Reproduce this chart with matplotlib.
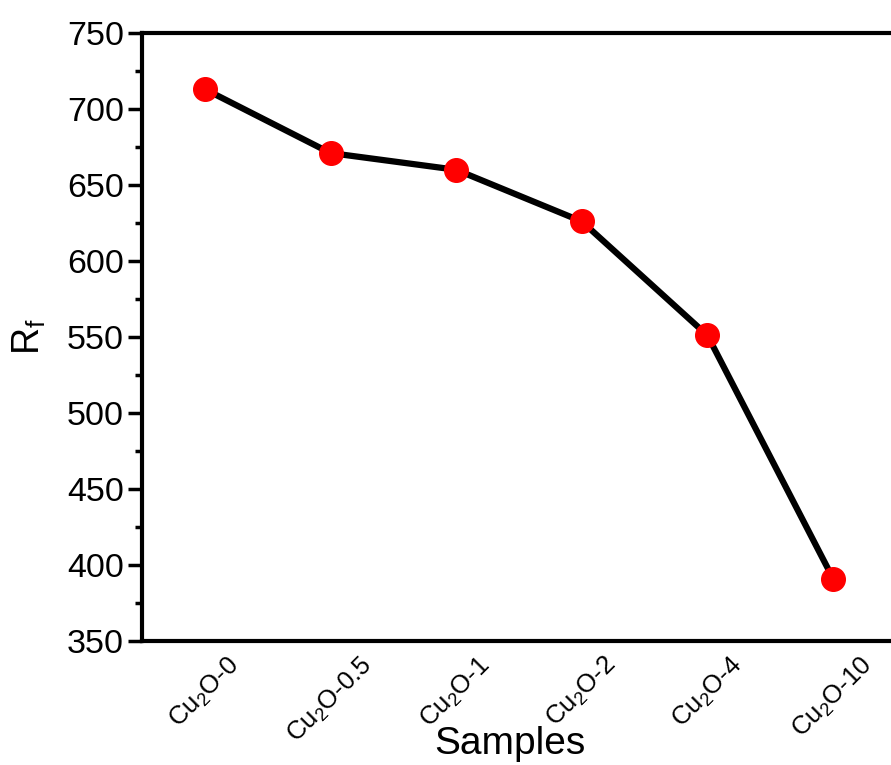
import matplotlib
matplotlib.use('Agg')
import matplotlib.pyplot as plt
from matplotlib.ticker import MultipleLocator

plt.rcParams['font.family'] = ['Liberation Sans', 'DejaVu Sans']
plt.rcParams['mathtext.default'] = 'regular'

# Data
samples = ['Cu$_2$O-0', 'Cu$_2$O-0.5', 'Cu$_2$O-1', 'Cu$_2$O-2', 'Cu$_2$O-4', 'Cu$_2$O-10']
rf = [713, 671, 660, 626, 551, 391]

fig = plt.figure(figsize=(8.91, 7.65), dpi=100)
ax = fig.add_axes([0.1594, 0.1621, 0.8462, 0.7948])

x = list(range(len(samples)))
ax.plot(x, rf, color='black', linewidth=4.5, zorder=2)
ax.plot(x, rf, linestyle='none', marker='o', markersize=17, color='#ff0000', zorder=3)

ax.set_xlim(-0.5, 5.5)
ax.set_ylim(350, 750)
ax.yaxis.set_major_locator(MultipleLocator(50))
ax.yaxis.set_minor_locator(MultipleLocator(25))

ax.set_xticks(x)
ax.set_xticklabels(samples, rotation=45, ha='center', fontsize=18.5)
ax.tick_params(axis='x', length=0, pad=8)
ax.tick_params(axis='y', which='major', direction='out', length=10, width=2.5, labelsize=24.5, pad=3)
ax.tick_params(axis='y', which='minor', direction='out', length=5, width=2.5)

for s in ax.spines.values():
    s.set_linewidth(3)

# x label sits below the rotated tick labels, near the bottom edge
fig.text(0.5724, 0.014, 'Samples', fontsize=28, ha='center', va='baseline')
ax.set_ylabel('R$_f$', fontsize=27, labelpad=14)

fig.savefig('out.png', dpi=100)
